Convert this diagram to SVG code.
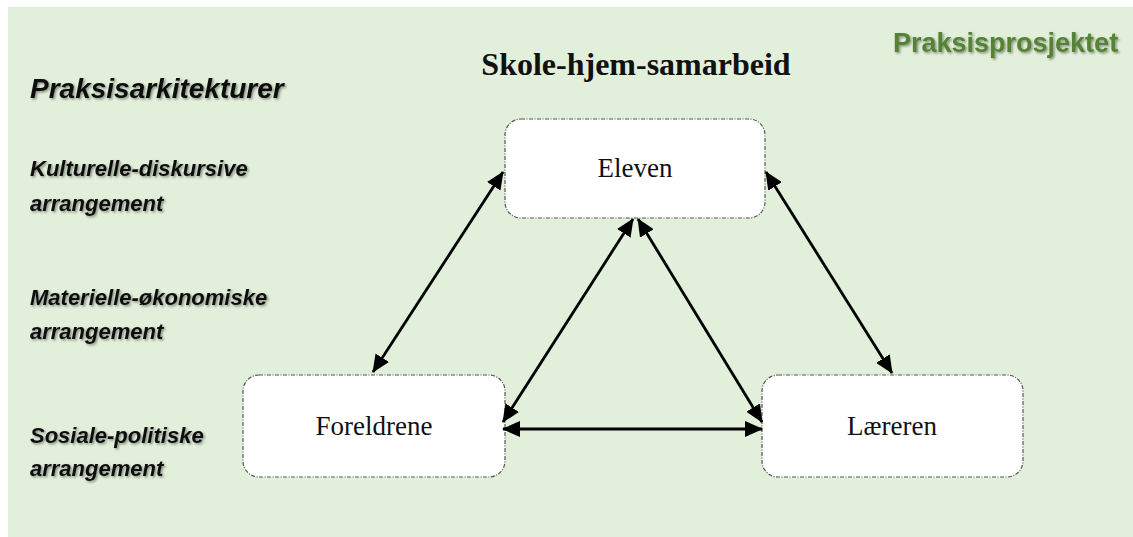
<svg xmlns="http://www.w3.org/2000/svg" width="1133" height="537" viewBox="0 0 1133 537">
<style>
.lbl{font-family:"Liberation Sans",Arial,sans-serif;font-weight:bold;font-style:italic;fill:#111;}
.node rect{fill:#fff;stroke:#555;stroke-width:1.2;stroke-dasharray:4 1.5 1 1.5;}
.node text{font-family:"Liberation Serif","Times New Roman",serif;font-size:27px;fill:#111;text-anchor:middle;}
.conn line{stroke:#000;stroke-width:2.8;marker-start:url(#ah);marker-end:url(#ah);}
</style>
<defs>
<marker id="ah" markerUnits="userSpaceOnUse" markerWidth="18" markerHeight="16" refX="17" refY="8" orient="auto-start-reverse" viewBox="0 0 18 16">
<path d="M0,0 L18,8 L0,16 z" fill="#000"/>
</marker>
<filter id="sh" x="-5%" y="-30%" width="110%" height="160%">
<feDropShadow dx="1.5" dy="1.5" stdDeviation="1.2" flood-color="#000" flood-opacity="0.4"/>
</filter>
</defs>
<rect x="0" y="0" width="1133" height="537" fill="#fff"/>
<rect x="8" y="7" width="1125" height="530" fill="#E2EFDA"/>

<g id="texts" filter="url(#sh)">
<text x="893" y="52" font-family="Liberation Sans,Arial,sans-serif" font-weight="bold" font-size="27" fill="#548235">Praksisprosjektet</text>
<text class="lbl" x="30" y="98" font-size="28">Praksisarkitekturer</text>
<text class="lbl" x="30" y="176" font-size="22">Kulturelle-diskursive</text>
<text class="lbl" x="30" y="211" font-size="22">arrangement</text>
<text class="lbl" x="30" y="305" font-size="22">Materielle-økonomiske</text>
<text class="lbl" x="30" y="339" font-size="22">arrangement</text>
<text class="lbl" x="30" y="443" font-size="22">Sosiale-politiske</text>
<text class="lbl" x="30" y="476" font-size="22">arrangement</text>
</g>
<text id="title" x="636" y="75" text-anchor="middle" font-family="Liberation Serif,'Times New Roman',serif" font-weight="bold" font-size="32" fill="#111">Skole-hjem-samarbeid</text>

<g id="eleven" class="node">
<rect x="505" y="119" width="260" height="99" rx="16"/>
<text x="635" y="177">Eleven</text>
</g>
<g id="foreldrene" class="node">
<rect x="243" y="375" width="262" height="102" rx="16"/>
<text x="374" y="435">Foreldrene</text>
</g>
<g id="laereren" class="node">
<rect x="762" y="375" width="261" height="102" rx="16"/>
<text x="892" y="435">Læreren</text>
</g>

<g id="connectors" class="conn">
<line x1="503" y1="172" x2="373" y2="372"/>
<line x1="766" y1="172" x2="892" y2="373"/>
<line x1="633" y1="219" x2="503" y2="422"/>
<line x1="638" y1="219" x2="762" y2="422"/>
<line x1="503" y1="429" x2="762" y2="429"/>
</g>
</svg>
